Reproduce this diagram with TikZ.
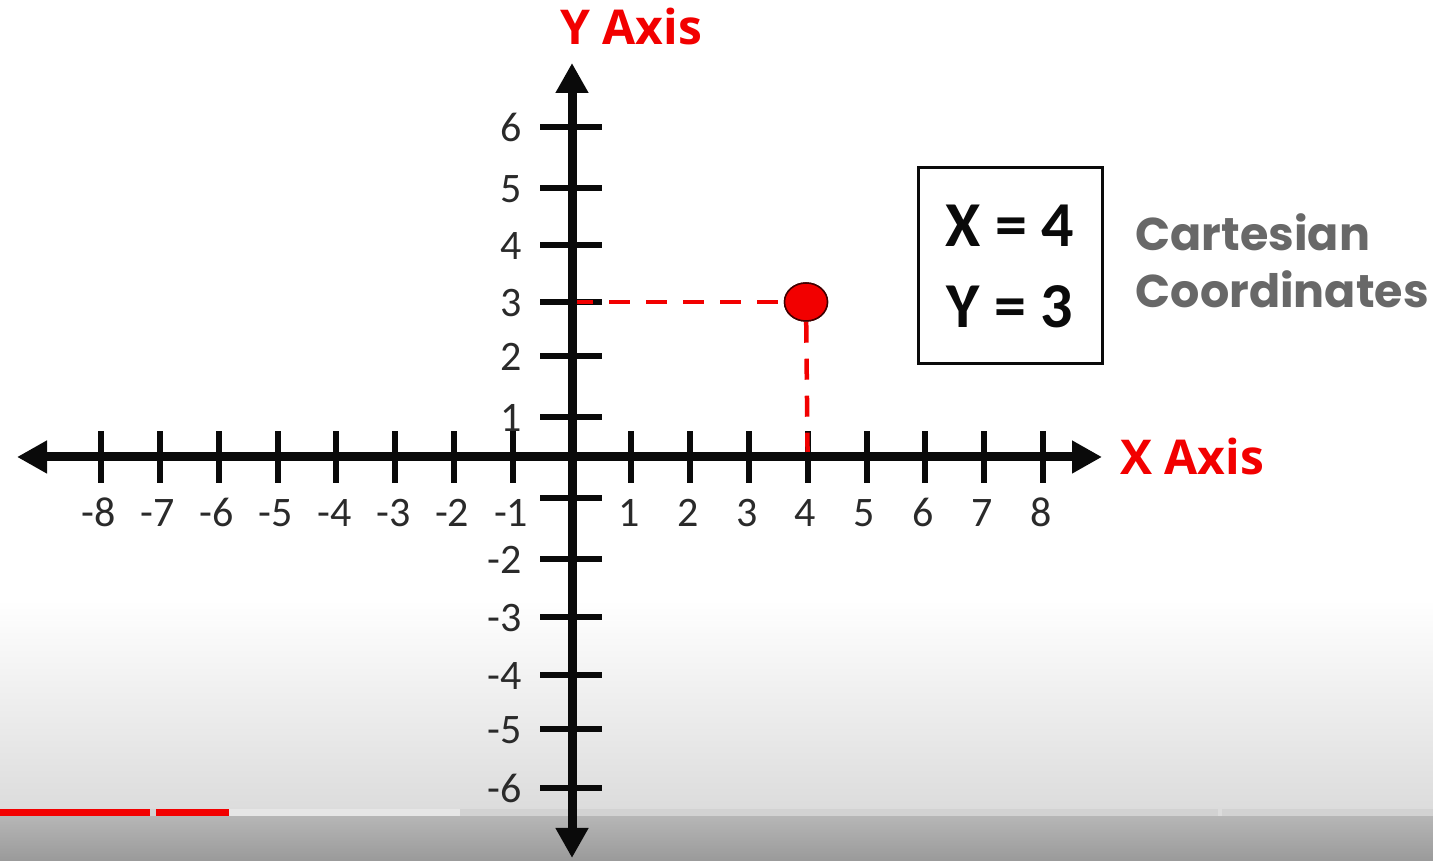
\documentclass[tikz,border=0pt]{standalone}
\usepackage{fontspec}
\setmainfont{Carlito}
\newfontfamily\headfont{Open Sans}
\newfontfamily\notefont{Poppins}
\usetikzlibrary{arrows.meta, positioning, shapes.geometric}
\definecolor{axisred}{HTML}{F20000}
\definecolor{ink}{HTML}{0A0A0A}
\definecolor{numink}{HTML}{2A2A2A}
\definecolor{note}{HTML}{686868}
\definecolor{fadetop}{HTML}{DCDCDC}
\definecolor{fadelow}{HTML}{B6B6B6}
\definecolor{fadebot}{HTML}{9A9A9A}
\definecolor{barbg}{HTML}{D2D2D2}
\definecolor{barbuf}{HTML}{E6E6E6}
\tikzset{
  axis/.style={{Triangle[length=30pt, width=31pt]}-{Triangle[length=30pt, width=31pt]},
               line width=9pt, draw=ink},
  tick/.style={line width=6pt, draw=ink},
  num/.style={font=\fontsize{42}{42}\selectfont, text=numink, inner sep=0pt},
  axislabel/.style={font=\headfont\bfseries\fontsize{48}{48}\selectfont,
                    text=axisred, inner sep=0pt},
  guide/.style={draw=axisred, line width=4.5pt, dash pattern=on 21pt off 16pt},
  dot/.style={ellipse, minimum width=43pt, minimum height=38pt, inner sep=0pt,
              fill=axisred, draw=black!75!red, line width=1.5pt},
  coordbox/.style={rectangle, draw=ink, line width=3pt, minimum width=184pt,
                   minimum height=196pt, align=center, inner sep=0pt, text=ink,
                   font=\bfseries\fontsize{64}{81}\selectfont},
  note/.style={font=\notefont\bfseries\fontsize{46}{57}\selectfont, text=note,
               align=left, inner sep=0pt},
}

\begin{document}
\begin{tikzpicture}[x=1pt, y=1pt]
  \useasboundingbox (0,0) rectangle (1433,861);
  % player fade and progress bar
  \fill[white] (0,0) rectangle (1433,861);
  \shade[top color=white, bottom color=fadetop] (0,52) rectangle (1433,261);
  \shade[top color=fadelow, bottom color=fadebot] (0,0) rectangle (1433,45);
  \fill[barbg] (0,45) rectangle (1433,52);
  \fill[barbuf] (229,45) rectangle (460,52);
  \fill[axisred] (0,45) rectangle (150,52);
  \fill[axisred] (156,45) rectangle (229,52);
  \fill[fadetop] (1218,45) rectangle (1222,52);

  \coordinate (xl) at (17,404);
  \coordinate (xr) at (1102,404);
  \coordinate (yb) at (572,3);
  \coordinate (yt) at (572,798);

  % ticks and numbers
  \foreach \i in {-8,...,-1,1,2,...,8} {
    \coordinate (x\i) at ({572+58.9*\i},404);
    \draw[tick] ({572+58.9*\i},378) -- ({572+58.9*\i},430);
    \node[num, anchor=base] (xn\i) at ({572+58.9*\i-2},334) {\i};
  }
  \foreach \v/\py in {6/734,5/673,4/616,3/559,2/505,1/444,-1/363,-2/302,-3/244,-4/186,-5/132,-6/73} {
    \coordinate (y\v) at (572,\py);
    \draw[tick] (540,\py) -- (602,\py);
  }
  \foreach \v/\py in {6/734,5/673,4/616,3/559,2/505,1/444,-2/302,-3/244,-4/186,-5/132,-6/73}
    \node[num, anchor=base east] (yn\v) at (522,\py-15) {\v};

  \node[dot] (pt) at (806,559) {};
  \draw[guide] (y3) -- (pt);
  \draw[guide] (pt) -- (x4);

  \draw[axis] (xl) -- (xr);
  \draw[axis] (yb) -- (yt);
  \node[dot] at (pt) {};

  \node[axislabel, right=18pt of xr] (xlab) {X Axis};
  \node[axislabel, above right=18pt and -12pt of yt] (ylab) {Y Axis};

  \node[coordbox] (cbox) at (1010,595) {X = 4\\Y = 3};
  \node[note, right=32pt of cbox, yshift=5pt] (cart) {Cartesian\\Coordinates};
\end{tikzpicture}
\end{document}
